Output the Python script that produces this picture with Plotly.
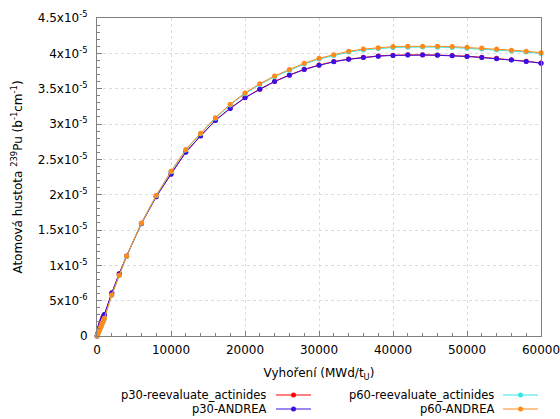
import plotly.graph_objects as go

# Burnup (MWd/tU)
burnup = [0, 100, 200, 300, 400, 500, 600, 700, 800, 900, 1000, 2000, 3000, 4000, 6000, 8000,
          10000, 12000, 14000, 16000, 18000, 20000, 22000, 24000, 26000, 28000, 30000,
          32000, 34000, 36000, 38000, 40000, 42000, 44000, 46000, 48000, 50000,
          52000, 54000, 56000, 58000, 60000]

p30_andrea = [0.0, 0.35e-6, 0.7e-6, 1.0e-6, 1.35e-6, 1.7e-6, 2.0e-6, 2.3e-6, 2.6e-6, 2.85e-6, 3.05e-6,
              6.1e-6, 8.8e-6, 1.13e-5, 1.59e-5, 1.97e-5,
              2.29e-5, 2.60e-5, 2.83e-5, 3.05e-5, 3.22e-5, 3.37e-5, 3.49e-5, 3.60e-5, 3.69e-5, 3.77e-5, 3.83e-5,
              3.88e-5, 3.915e-5, 3.94e-5, 3.96e-5, 3.97e-5, 3.975e-5, 3.975e-5, 3.972e-5, 3.965e-5, 3.955e-5,
              3.94e-5, 3.925e-5, 3.905e-5, 3.885e-5, 3.86e-5]
p30_reeval = [v * 1.001 for v in p30_andrea]

p60_andrea = [0.0, 0.25e-6, 0.5e-6, 0.75e-6, 1.0e-6, 1.25e-6, 1.5e-6, 1.75e-6, 2.0e-6, 2.25e-6, 2.5e-6,
              5.8e-6, 8.6e-6, 1.13e-5, 1.60e-5, 1.99e-5,
              2.33e-5, 2.64e-5, 2.87e-5, 3.09e-5, 3.28e-5, 3.44e-5, 3.57e-5, 3.68e-5, 3.77e-5, 3.86e-5, 3.93e-5,
              3.98e-5, 4.03e-5, 4.06e-5, 4.08e-5, 4.095e-5, 4.10e-5, 4.102e-5, 4.10e-5, 4.095e-5, 4.085e-5,
              4.075e-5, 4.06e-5, 4.045e-5, 4.03e-5, 4.01e-5]
p60_reeval = [v * 0.997 for v in p60_andrea]

series_names = ["p30-reevaluate_actinides", "p30-ANDREA", "p60-reevaluate_actinides", "p60-ANDREA"]
series_data = [p30_reeval, p30_andrea, p60_reeval, p60_andrea]
series_colors = ["#ff0000", "#3a10e6", "#33e6e6", "#ff8a1a"]

ytick_vals = [0, 5e-6, 1e-5, 1.5e-5, 2e-5, 2.5e-5, 3e-5, 3.5e-5, 4e-5, 4.5e-5]
ytick_text = ["0", "5x10<sup>-6</sup>", "1x10<sup>-5</sup>", "1.5x10<sup>-5</sup>", "2x10<sup>-5</sup>",
              "2.5x10<sup>-5</sup>", "3x10<sup>-5</sup>", "3.5x10<sup>-5</sup>", "4x10<sup>-5</sup>",
              "4.5x10<sup>-5</sup>"]
xtick_vals = [0, 10000, 20000, 30000, 40000, 50000, 60000]

FONT = "DejaVu Sans"
fig = go.Figure()
for name, ys, col in zip(series_names, series_data, series_colors):
    fig.add_trace(go.Scatter(x=burnup, y=ys, mode="lines+markers", name=name,
                             line=dict(color=col, width=1),
                             marker=dict(color=col, size=5, symbol="circle"),
                             showlegend=False, cliponaxis=False))

axis_common = dict(showline=True, linecolor="#808080", linewidth=1, mirror=True,
                   ticks="inside", ticklen=5, tickcolor="#808080",
                   showgrid=True, gridcolor="#dcdcdc", griddash="dot", gridwidth=1,
                   tickfont=dict(family=FONT, size=12, color="#000"),
                   ticklabeloverflow="allow", automargin=False)

fig.update_xaxes(range=[0, 60000.5], tickvals=xtick_vals, ticktext=[str(v) for v in xtick_vals],
                 minor=dict(ticks="inside", ticklen=3, tickcolor="#808080", dtick=2000, showgrid=False),
                 title=dict(text="Vyhoření (MWd/t<sub>U</sub>)", font=dict(family=FONT, size=12), standoff=12),
                 ticklabelstandoff=3, zeroline=False,
                 **axis_common)
fig.update_yaxes(range=[0, 4.5e-5], tickvals=ytick_vals, ticktext=ytick_text,
                 minor=dict(ticks="inside", ticklen=3, tickcolor="#808080", dtick=1e-6, showgrid=False),
                 title=dict(text="Atomová hustota <sup>239</sup>Pu (b<sup>-1</sup>cm<sup>-1</sup>)",
                            font=dict(family=FONT, size=12), standoff=12),
                 ticklabelstandoff=6, zeroline=True, zerolinecolor="#a0a0a0", zerolinewidth=2.5,
                 **axis_common)

# Gnuplot-style legend: right-aligned text with sample to the right
leg_rows = [(268, 276, 311, 395), (268, 276, 311, 409), (496, 503, 538, 395), (496, 503, 538, 409)]
W, H = 560, 419
for (name, col, (tx, x0, x1, yy)) in zip(series_names, series_colors, leg_rows):
    xa = (tx - 97) / 444
    ym = (336 - yy) / 318
    fig.add_annotation(xref="paper", yref="paper", x=xa, y=ym, text=name, showarrow=False,
                       font=dict(family=FONT, size=11.5, color="#000"), xanchor="right", yanchor="middle")
    fig.add_shape(type="line", xref="paper", yref="paper",
                  x0=(x0 - 97) / 444, x1=(x1 - 97) / 444, y0=ym, y1=ym,
                  line=dict(color=col, width=1))
    xm = ((x0 + x1) / 2 - 97) / 444
    fig.add_shape(type="circle", xref="paper", yref="paper",
                  x0=xm - 2.5 / 444, x1=xm + 2.5 / 444, y0=ym - 2.5 / 318, y1=ym + 2.5 / 318,
                  fillcolor=col, line=dict(color=col, width=0))

fig.update_layout(width=W, height=H, margin=dict(l=97, r=19, t=18, b=83),
                  paper_bgcolor="white", plot_bgcolor="white",
                  font=dict(family=FONT, size=12, color="#000"))
fig.write_html("out.html")
